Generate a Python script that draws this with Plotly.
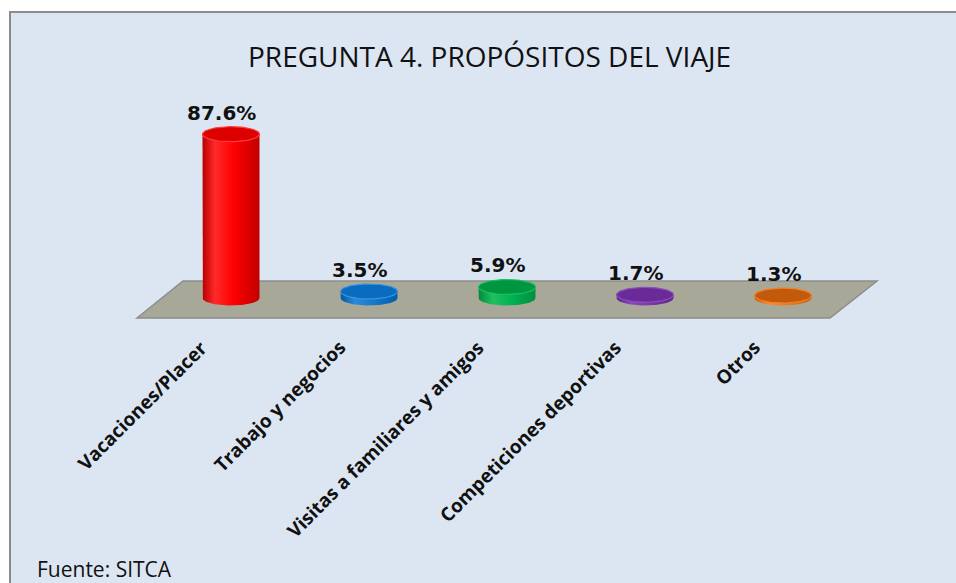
import numpy as np
import plotly.graph_objects as go

# ---------------- data ----------------
categories = ["Vacaciones/Placer", "Trabajo y negocios", "Visitas a familiares y amigos",
              "Competiciones deportivas", "Otros"]
values = [87.6, 3.5, 5.9, 1.7, 1.3]
value_labels = ["87.6%", "3.5%", "5.9%", "1.7%", "1.3%"]
title_text = "PREGUNTA 4. PROPÓSITOS DEL VIAJE"
source_text = "Fuente: SITCA"

# ---------------- style ----------------
side_scales = [
    [[0, "#b80000"], [0.22, "#ff2a2a"], [0.55, "#ff0000"], [1, "#c00000"]],
    [[0, "#0058a0"], [0.25, "#2a8ad8"], [0.6, "#1578c8"], [1, "#005ca8"]],
    [[0, "#008a3c"], [0.25, "#20c060"], [0.6, "#00b050"], [1, "#009040"]],
    [[0, "#5a2088"], [0.25, "#8a48bc"], [0.6, "#7838aa"], [1, "#5e248c"]],
    [[0, "#c85a08"], [0.25, "#f88a30"], [0.6, "#ee7a1a"], [1, "#cc600c"]],
]
top_colors = ["#dc0000", "#0a6cc0", "#00963f", "#6a2a98", "#c25a0c"]
rim_colors = ["#ff3a3a", "#3a92dc", "#1cc060", "#8a50bc", "#f08030"]

W, H = 956, 583
PX_X = 138.0        # pixels per category step
X0 = 231.0          # pixel x of first category
PX_Y = 1.87         # pixels per percent
Y0 = 298.0          # pixel y of baseline


def dx(px):
    return (px - X0) / PX_X


def dy(py):
    return (Y0 - py) / PX_Y


half_w = 28.5 / PX_X
ry = 7.5 / PX_Y

fig = go.Figure()

t = np.linspace(0, np.pi, 40)
tf = np.linspace(0, 2 * np.pi, 80)
for i, v in enumerate(values):
    bx = i + half_w * np.cos(np.pi - t)           # left -> right
    by = -ry * np.sin(t)                          # front half (below)
    xs = np.concatenate([[i - half_w], bx, [i + half_w, i - half_w]])
    ys = np.concatenate([[v], by, [v, v]])
    fig.add_trace(go.Scatter(
        x=xs, y=ys, mode="lines", fill="toself",
        line=dict(width=0, color=top_colors[i]),
        fillgradient=dict(type="horizontal", colorscale=side_scales[i]),
        hoverinfo="skip", showlegend=False))
    fig.add_trace(go.Scatter(
        x=i + half_w * np.cos(tf), y=v + ry * np.sin(tf),
        mode="lines", fill="toself", fillcolor=top_colors[i],
        line=dict(width=1.2, color=rim_colors[i]),
        hoverinfo="skip", showlegend=False))

annotations = []
for i, v in enumerate(values):
    annotations.append(dict(
        x=i, y=v + ry, xref="x", yref="y", text="<b>%s</b>" % value_labels[i],
        showarrow=False, xanchor="center", yanchor="bottom",
        xshift=-10, yshift=0,
        font=dict(family="DejaVu Sans", size=20, color="#111111")))
    annotations.append(dict(
        x=i, y=dy(332), xref="x", yref="y", text="<b>%s</b>" % categories[i],
        showarrow=False, xanchor="right", yanchor="top", textangle=-45,
        xshift=-15,
        font=dict(family="Open Sans", size=19, color="#111111")))

annotations.append(dict(
    x=489 / W, y=1 - 56 / H, xref="paper", yref="paper", text=title_text,
    showarrow=False, xanchor="center", yanchor="middle",
    font=dict(family="Open Sans", size=28, color="#111111")))
annotations.append(dict(
    x=35 / W, y=1 - 569 / H, xref="paper", yref="paper", text=source_text,
    showarrow=False, xanchor="left", yanchor="middle",
    font=dict(family="Open Sans", size=21, color="#111111")))

floor_path = "M {a},{b} L {c},{d} L {e},{f} L {g},{h} Z".format(
    a=dx(137), b=dy(318), c=dx(183), d=dy(281), e=dx(877), f=dy(281), g=dx(830), h=dy(318))

shapes = [
    dict(type="rect", xref="paper", yref="paper", x0=10 / W, x1=1.02, y0=-0.02, y1=1 - 12 / H,
         fillcolor="#dce6f2", line=dict(color="#8c8c8c", width=2), layer="below"),
    dict(type="path", xref="x", yref="y", path=floor_path,
         fillcolor="#a8a898", line=dict(color="#8c8c8c", width=1.5), layer="below"),
]

fig.update_layout(
    width=W, height=H,
    margin=dict(l=0, r=0, t=0, b=0),
    paper_bgcolor="white", plot_bgcolor="rgba(0,0,0,0)",
    xaxis=dict(range=[dx(0), dx(W)], visible=False, fixedrange=True),
    yaxis=dict(range=[dy(H), dy(0)], visible=False, fixedrange=True),
    shapes=shapes, annotations=annotations, showlegend=False,
)

fig.write_html("out.html", config={"displayModeBar": False},
               post_script="document.body.style.margin='0px';document.body.style.overflow='hidden';")
